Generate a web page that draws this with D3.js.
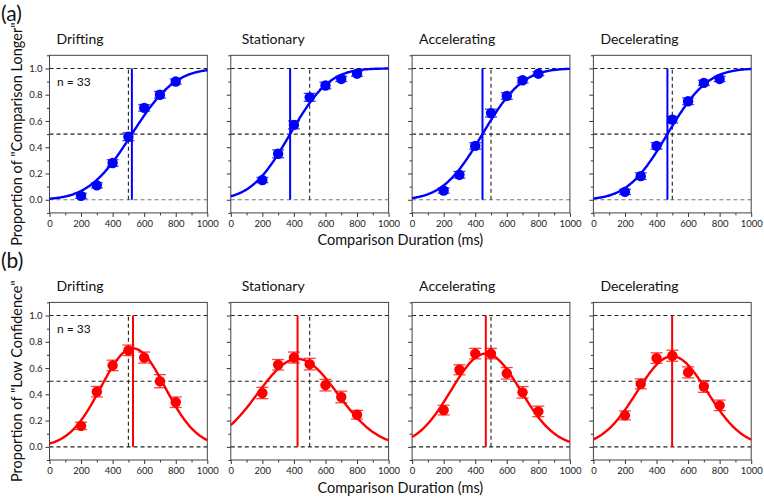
<!DOCTYPE html>
<html><head><meta charset="utf-8">
<script src="https://cdn.jsdelivr.net/npm/d3@7"></script>
<style>
html,body{margin:0;padding:0;background:#fff;}
svg{display:block;font-family:Lato,"Open Sans",sans-serif;}
</style></head>
<body><svg id="chart" width="764" height="498"></svg>
<script>
// ---------- data ----------
const conditions = ["Drifting", "Stationary", "Accelerating", "Decelerating"];
const durations = [200, 300, 400, 500, 600, 700, 800];
const xTicks = [0, 200, 400, 600, 800, 1000];
const yTicks = [0.0, 0.2, 0.4, 0.6, 0.8, 1.0];

// (a) proportion "Comparison Longer"
const longerMean = [
  [0.03, 0.11, 0.28, 0.48, 0.70, 0.80, 0.90],
  [0.15, 0.35, 0.57, 0.78, 0.87, 0.92, 0.96],
  [0.07, 0.19, 0.41, 0.66, 0.79, 0.91, 0.96],
  [0.06, 0.18, 0.41, 0.61, 0.75, 0.89, 0.92]
];
const longerErr = [
  [0.02, 0.02, 0.025, 0.03, 0.025, 0.025, 0.02],
  [0.02, 0.03, 0.03, 0.03, 0.025, 0.02, 0.02],
  [0.02, 0.025, 0.025, 0.03, 0.025, 0.02, 0.015],
  [0.02, 0.025, 0.025, 0.025, 0.025, 0.02, 0.02]
];
const longerPSE = [522, 376, 446, 469];     // fitted mean of cumulative normal
const longerSigma = [215, 195, 200, 200];   // fitted SD

// (b) proportion "Low Confidence"
const lowConfMean = [
  [0.16, 0.42, 0.62, 0.735, 0.68, 0.50, 0.34],
  [0.41, 0.625, 0.68, 0.63, 0.47, 0.38, 0.245],
  [0.28, 0.587, 0.71, 0.71, 0.56, 0.415, 0.27],
  [0.24, 0.48, 0.676, 0.694, 0.567, 0.46, 0.316]
];
const lowConfErr = [
  [0.028, 0.04, 0.04, 0.04, 0.042, 0.05, 0.04],
  [0.043, 0.04, 0.042, 0.044, 0.044, 0.044, 0.033],
  [0.037, 0.038, 0.04, 0.04, 0.044, 0.044, 0.04],
  [0.034, 0.038, 0.04, 0.042, 0.042, 0.045, 0.04]
];
const lowConfPeak = [529, 423, 467, 499];   // fitted Gaussian centre
const lowConfAmp = [0.75, 0.67, 0.71, 0.69];
const lowConfSigma = [203, 253, 220, 223];

const sampleN = "n = 33";

// ---------- helpers ----------
function erf(x){
  const s = Math.sign(x); x = Math.abs(x);
  const t = 1/(1+0.3275911*x);
  const y = 1-(((((1.061405429*t-1.453152027)*t)+1.421413741)*t-0.284496736)*t+0.254829592)*t*Math.exp(-x*x);
  return s*y;
}
const normCdf = (x, m, s) => 0.5*(1+erf((x-m)/(s*Math.SQRT2)));
const gauss = (x, a, m, s) => a*Math.exp(-((x-m)*(x-m))/(2*s*s));

// ---------- layout ----------
const svg = d3.select("#chart");
const panelW = 157.8, panelH = 157.6, panelStep = 181.3, firstLeft = 49.5;
const rows = [
  {top: 55.3, letter: "(a)", color: "#0000ff", ylab: "Proportion of \"Comparison Longer\"",
   mean: longerMean, err: longerErr, vline: longerPSE,
   fn: (x, i) => normCdf(x, longerPSE[i], longerSigma[i]), zeroGray: true},
  {top: 302.4, letter: "(b)", color: "#ff0000", ylab: "Proportion of \"Low Confidence\"",
   mean: lowConfMean, err: lowConfErr, vline: lowConfPeak,
   fn: (x, i) => gauss(x, lowConfAmp[i], lowConfPeak[i], lowConfSigma[i]), zeroGray: false}
];

const x = d3.scaleLinear().domain([0, 1000]).range([0, panelW]);
const y = d3.scaleLinear().domain([-0.1, 1.1]).range([panelH, 0]);
const xs = d3.range(0, 1001, 5);

rows.forEach((row, r) => {
  // panel letter
  svg.append("text").attr("x", 1).attr("y", row.top - 34 + (r===0?0:0))
    .attr("font-size", 21).attr("fill", "#111").text(row.letter);

  // y-axis label
  svg.append("text")
    .attr("transform", `translate(22,${row.top + panelH/2}) rotate(-90)`)
    .attr("text-anchor", "middle").attr("font-size", 14.5).attr("fill", "#111")
    .text(row.ylab);

  // x-axis label
  svg.append("text")
    .attr("x", firstLeft + 1.5*panelStep + panelW/2).attr("y", row.top + panelH + 32.5)
    .attr("text-anchor", "middle").attr("font-size", 14.5).attr("fill", "#111")
    .text("Comparison Duration (ms)");

  conditions.forEach((cond, i) => {
    const g = svg.append("g").attr("transform", `translate(${firstLeft + i*panelStep},${row.top})`);

    // title
    g.append("text").attr("x", i===1 ? 11 : 7).attr("y", -11)
      .attr("font-size", 14).attr("fill", "#111").text(cond);

    // reference dashed lines
    [1.0, 0.5, 0.0].forEach(v => {
      g.append("line").attr("x1", 0).attr("x2", panelW).attr("y1", y(v)).attr("y2", y(v))
        .attr("stroke", (v === 0 && row.zeroGray) ? "#777" : "#222")
        .attr("stroke-width", 1.1).attr("stroke-dasharray", "4,3");
    });
    g.append("line").attr("x1", x(500)).attr("x2", x(500)).attr("y1", y(0)).attr("y2", y(1))
      .attr("stroke", "#222").attr("stroke-width", 1.1).attr("stroke-dasharray", "4,3");

    // axes
    const xAxis = d3.axisBottom(x).tickValues(xTicks).tickSize(4).tickPadding(3).tickFormat(d3.format("d"));
    const xMinor = d3.axisBottom(x).tickValues(d3.range(100, 1000, 200)).tickSize(2.5).tickFormat("");
    const yAxis = d3.axisLeft(y).tickValues(yTicks).tickSize(4).tickPadding(3)
      .tickFormat(i === 0 ? d3.format(".1f") : "");
    const yMinor = d3.axisLeft(y).tickValues([-0.1, 0.1, 0.3, 0.5, 0.7, 0.9, 1.1]).tickSize(2.5).tickFormat("");

    const styleAxis = sel => {
      sel.select(".domain").remove();
      sel.selectAll("line").attr("stroke", "#333");
      sel.selectAll("text").attr("font-size", 9.5).attr("fill", "#222")
        .attr("font-family", "Lato, 'Open Sans', sans-serif");
    };
    g.append("g").attr("transform", `translate(0,${panelH})`).call(xAxis).call(styleAxis);
    g.append("g").attr("transform", `translate(0,${panelH})`).call(xMinor).call(styleAxis);
    g.append("g").call(yAxis).call(styleAxis);
    g.append("g").call(yMinor).call(styleAxis);

    // frame
    g.append("rect").attr("x", 0).attr("y", 0).attr("width", panelW).attr("height", panelH)
      .attr("fill", "none").attr("stroke", "#444").attr("stroke-width", 1);

    // fitted curve
    g.append("path").datum(xs)
      .attr("d", d3.line().x(d => x(d)).y(d => y(row.fn(d, i))))
      .attr("fill", "none").attr("stroke", row.color).attr("stroke-width", 2.4);

    // vertical PSE / peak line
    g.append("line").attr("x1", x(row.vline[i])).attr("x2", x(row.vline[i]))
      .attr("y1", y(0)).attr("y2", y(1)).attr("stroke", row.color).attr("stroke-width", 2);

    // error bars
    const pts = durations.map((d, k) => ({d, m: row.mean[i][k], e: row.err[i][k]}));
    const eb = g.append("g").selectAll("g").data(pts).join("g");
    eb.append("line").attr("x1", p => x(p.d)).attr("x2", p => x(p.d))
      .attr("y1", p => y(p.m + p.e)).attr("y2", p => y(p.m - p.e))
      .attr("stroke", row.color).attr("stroke-width", 1.3);
    [1, -1].forEach(sg => {
      eb.append("line").attr("x1", p => x(p.d) - 6).attr("x2", p => x(p.d) + 6)
        .attr("y1", p => y(p.m + sg*p.e)).attr("y2", p => y(p.m + sg*p.e))
        .attr("stroke", row.color).attr("stroke-width", 1.3).attr("stroke-opacity", 0.75);
    });
    // markers
    g.append("g").selectAll("circle").data(pts).join("circle")
      .attr("cx", p => x(p.d)).attr("cy", p => y(p.m)).attr("r", 5.2)
      .attr("fill", row.color);

    if (i === 0) {
      g.append("text").attr("x", 7.5).attr("y", 30.5).attr("font-size", 12)
        .attr("fill", "#111").text(sampleN);
    }
  });
});
</script></body></html>
